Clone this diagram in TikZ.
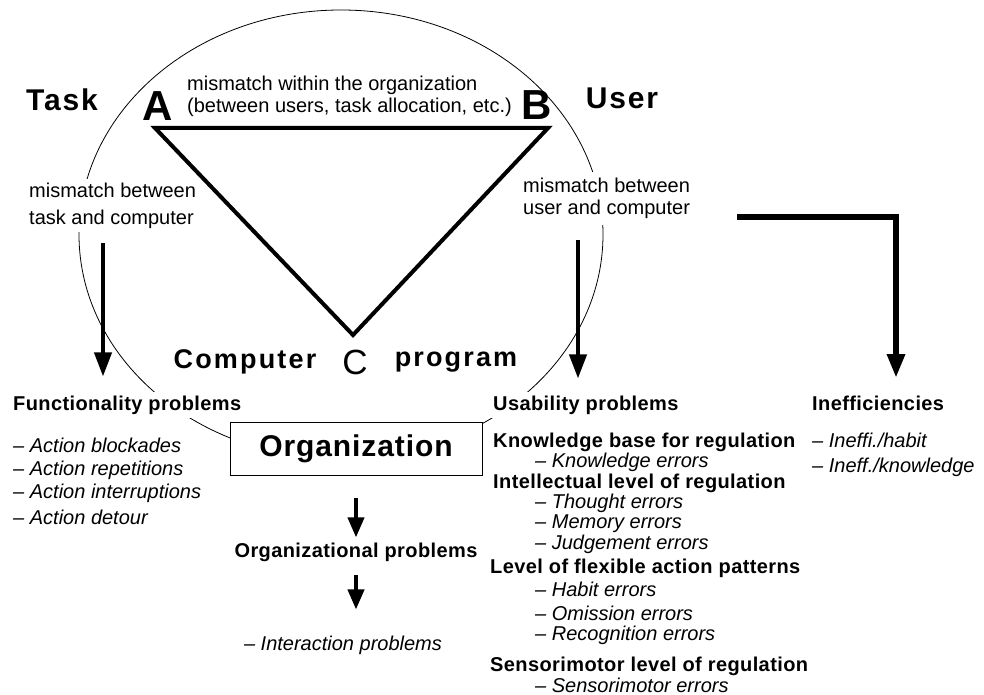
\documentclass[tikz,border=0pt]{standalone}
\usepackage{fontspec}
\setmainfont{Liberation Sans}
\usetikzlibrary{positioning,arrows.meta}

\begin{document}
\begin{tikzpicture}[x=1pt, y=-1pt,
  txt/.style={inner sep=0pt, font=\fontsize{20}{22}\selectfont},
  head/.style={inner sep=0pt, font=\fontsize{20}{22}\selectfont\bfseries\addfontfeature{LetterSpace=2}},
  item/.style={inner sep=0pt, font=\fontsize{20}{22}\selectfont\itshape},
  big/.style={inner sep=0pt, font=\fontsize{27}{30}\selectfont\bfseries\addfontfeature{LetterSpace=8}},
  corner/.style={inner sep=0pt, font=\fontsize{42}{44}\selectfont\bfseries},
  gap/.style={fill=white, inner sep=4pt},
  bigarrow/.style={line width=4pt, -{Triangle[width=17pt,length=24pt]}},
  smallarrow/.style={line width=4pt, -{Triangle[width=16pt,length=20pt]}}]

\useasboundingbox (0,0) rectangle (984,695);

%ring
\draw[line width=0.8pt] (341,234.5) ellipse [x radius=262pt, y radius=224.5pt];

%Nodes
\node[big, font=\fontsize{30}{32}\selectfont\bfseries\addfontfeature{LetterSpace=6}] (task) at (62,100) {Task};
\node[big, font=\fontsize{30}{32}\selectfont\bfseries\addfontfeature{LetterSpace=6}] (user) at (622,98) {User};
\node[corner] (labA) at (158,106) {A};
\node[corner] (labB) at (537,105) {B};
\node[inner sep=0pt, font=\fontsize{35}{38}\selectfont] (labC) at (355,362) {C};
\node[big] (computer) at (245,362) {Computer};
\node[big] (program) at (456,362) {program};

\node[txt, align=left, anchor=west] (within) at (187,96)
  {mismatch within the organization\\(between users, task allocation, etc.)};
\node[txt, gap, align=left, anchor=west, font=\fontsize{20}{27}\selectfont] (taskmis) at (25,205.5)
  {mismatch between\\task and computer};
\node[txt, gap, align=left, anchor=west, inner sep=6pt] (usermis) at (517,198.5)
  {mismatch between\\user and computer};

\node[draw, fill=white, line width=1pt, minimum width=252pt, minimum height=53pt,
  font=\fontsize{30}{32}\selectfont\bfseries\addfontfeature{LetterSpace=3}] (org) at (356,448.5) {Organization};

% functionality
\node[head, gap, anchor=west] (func) at (9,405) {Functionality problems};
\node[item, anchor=west] (act1) at (13,445) {-- Action blockades};
\node[item, anchor=west] (act2) at (13,470) {-- Action repetitions};
\node[item, anchor=west] (act3) at (13,493) {-- Action interruptions};
\node[item, anchor=west] (act4) at (13,517) {-- Action detour};

% organization
\node[head] (orgprob) at (356,552) {Organizational problems};
\node[item] (inter) at (343,645) {-- Interaction problems};

% usability
\node[head, gap, anchor=west] (usab) at (489,405) {Usability problems};
\node[head, anchor=west] (kbase) at (493,442) {Knowledge base for regulation};
\node[item, anchor=west] (kerr) at (535,462) {-- Knowledge errors};
\node[head, anchor=west] (intel) at (493,483) {Intellectual level of regulation};
\node[item, anchor=west] (therr) at (535,503) {-- Thought errors};
\node[item, anchor=west] (meerr) at (535,524) {-- Memory errors};
\node[item, anchor=west] (juerr) at (535,544) {-- Judgement errors};
\node[head, anchor=west] (flex) at (490,568) {Level of flexible action patterns};
\node[item, anchor=west] (haerr) at (535,589) {-- Habit errors};
\node[item, anchor=west] (omerr) at (535,613) {-- Omission errors};
\node[item, anchor=west] (reerr) at (535,635) {-- Recognition errors};
\node[head, anchor=west] (senso) at (490,666) {Sensorimotor level of regulation};
\node[item, anchor=west] (snerr) at (535,685) {-- Sensorimotor errors};

% inefficiencies
\node[head, anchor=west] (ineff) at (812,403) {Inefficiencies};
\node[item, anchor=west] (inhab) at (812,440) {-- Ineffi./habit};
\node[item, anchor=west] (inknow) at (812,467) {-- Ineff./knowledge};

%triangle
\coordinate (va) at (155,128);
\coordinate (vb) at (548,128);
\coordinate (vc) at (353,335);
\draw[line width=4pt, line join=miter] (va) -- (vb) -- (vc) -- cycle;

%arrows
\coordinate (la) at (103,243);
\coordinate (ua) at (578,240);
\coordinate (ia) at (737,217);
\coordinate (ib) at (896,378);
\draw[bigarrow, shorten >=15pt] (la) -- (la |- func.north);
\draw[bigarrow, shorten >=13pt] (ua) -- (ua |- usab.north);
\draw[bigarrow, line width=6pt, line join=miter] (ia) -| (ib);
\draw[smallarrow, shorten <=22pt, shorten >=5pt] (org) -- (orgprob);
\draw[smallarrow, shorten <=13pt, shorten >=26pt] (orgprob) -- (orgprob |- inter.north);

\end{tikzpicture}
\end{document}
